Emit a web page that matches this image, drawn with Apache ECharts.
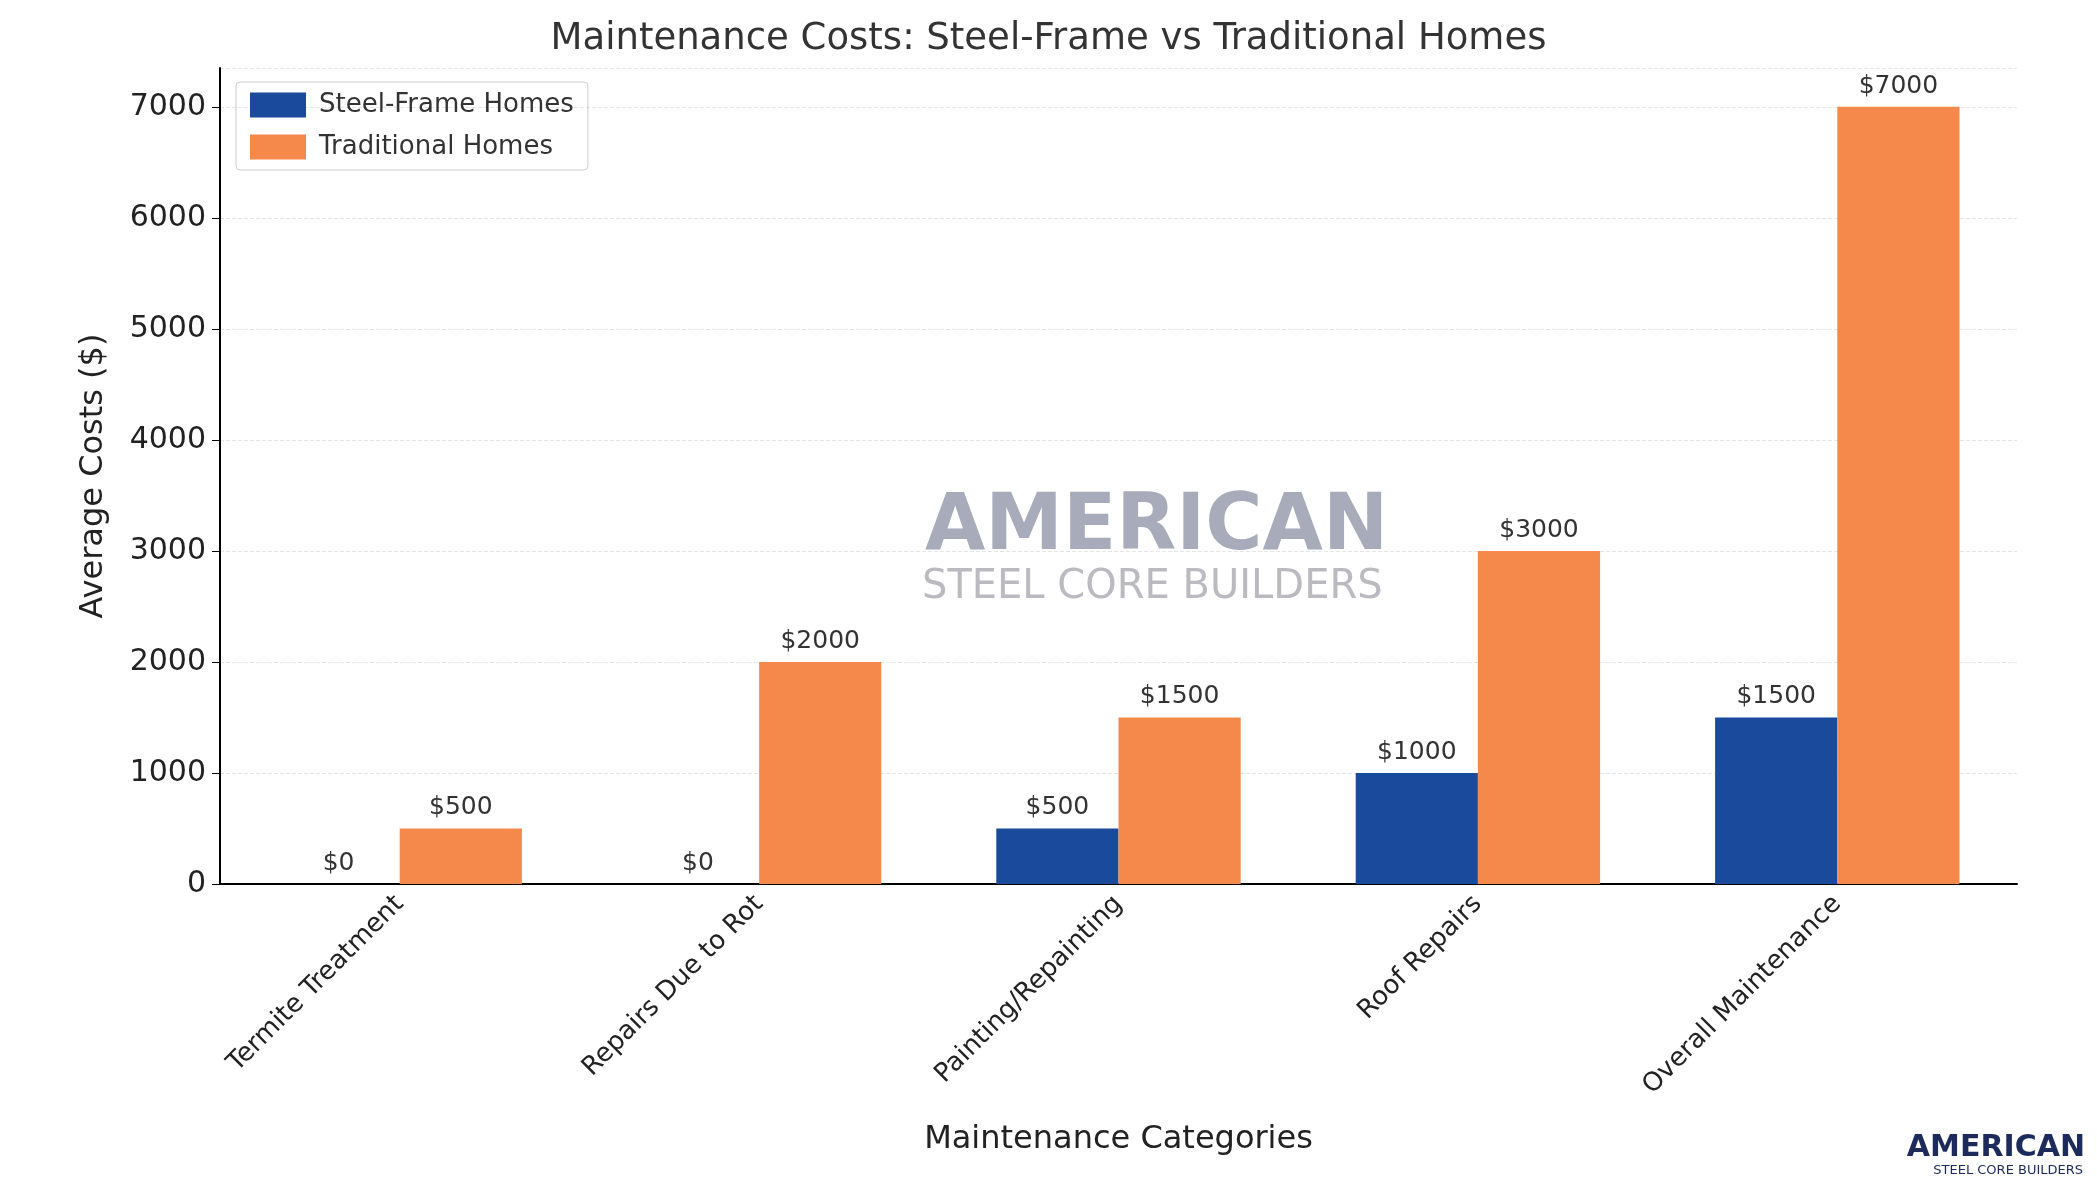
<!DOCTYPE html>
<html>
<head>
<meta charset="utf-8">
<script src="https://cdn.jsdelivr.net/npm/echarts@6/dist/echarts.min.js"></script>
<style>html,body{margin:0;padding:0;background:#fff}#chart{width:2097px;height:1180px}</style>
</head>
<body>
<div id="chart"></div>
<script>
// data
const categories = ['Termite Treatment', 'Repairs Due to Rot', 'Painting/Repainting', 'Roof Repairs', 'Overall Maintenance']
const steelFrame = [0, 0, 500, 1000, 1500]
const traditional = [500, 2000, 1500, 3000, 7000]

const font = 'DejaVu Sans'
let myChart = echarts.init(document.getElementById('chart'))

function labelOpt() {
    return {
        show: true, position: 'top', distance: 8,
        fontFamily: font, fontSize: 25, color: '#333',
        formatter: p => '$' + p.value
    }
}

myChart.setOption({
    animation: false,
    textStyle: { fontFamily: font },
    title: {
        text: 'Maintenance Costs: Steel-Frame vs Traditional Homes',
        left: 'center', top: 16,
        textStyle: { fontFamily: font, fontSize: 37, fontWeight: 'normal', color: '#333' }
    },
    legend: {
        left: 236, top: 82, orient: 'vertical', itemGap: 16,
        itemWidth: 56, itemHeight: 25, icon: 'rect',
        borderColor: '#ccc', borderWidth: 1, borderRadius: 4, padding: [10, 14],
        textStyle: { fontFamily: font, fontSize: 26, color: '#333', padding: [0, 0, 0, 8] },
        data: ['Steel-Frame Homes', 'Traditional Homes']
    },
    grid: { left: 220, right: 80, top: 68, bottom: 296 },
    xAxis: {
        type: 'category', data: categories,
        name: 'Maintenance Categories', nameLocation: 'middle', nameGap: 240,
        nameTextStyle: { fontFamily: font, fontSize: 32, color: '#222' },
        axisLine: { lineStyle: { color: '#000', width: 2 } },
        axisTick: { show: false },
        axisLabel: { rotate: 45, fontFamily: font, fontSize: 26, color: '#222', margin: 16 }
    },
    yAxis: {
        type: 'value', min: 0, max: 7350, interval: 1000,
        name: 'Average Costs ($)', nameLocation: 'middle', nameGap: 110,
        nameTextStyle: { fontFamily: font, fontSize: 32, color: '#222' },
        axisLine: { show: true, lineStyle: { color: '#000', width: 2 } },
        axisTick: { show: true, length: 8, lineStyle: { color: '#000' } },
        axisLabel: { fontFamily: font, fontSize: 30, color: '#222', margin: 14, showMaxLabel: false, formatter: v => String(v) },
        splitLine: { lineStyle: { color: '#e6e6e6', type: 'dashed' } }
    },
    graphic: [
        { type: 'text', left: 925, top: 490, z: 0, style: { text: 'AMERICAN', fontFamily: font, fontWeight: 'bold', fontSize: 78, fill: 'rgba(110,115,140,0.6)' } },
        { type: 'text', left: 922, top: 568, z: 0, style: { text: 'STEEL CORE BUILDERS', fontFamily: font, fontSize: 40, fill: 'rgba(140,140,150,0.6)' } },
        { type: 'text', right: 12, top: 1133, style: { text: 'AMERICAN', fontFamily: font, fontWeight: 'bold', fontSize: 30, fill: '#1d2a5c' } },
        { type: 'text', right: 14, top: 1164, style: { text: 'STEEL CORE BUILDERS', fontFamily: font, fontSize: 13, fill: '#1d2a5c' } }
    ],
    series: [
        {
            name: 'Steel-Frame Homes', type: 'bar', data: steelFrame,
            barWidth: '34%', barGap: '0%',
            itemStyle: { color: '#1a4a9c' }, label: labelOpt()
        },
        {
            name: 'Traditional Homes', type: 'bar', data: traditional,
            barWidth: '34%', barGap: '0%',
            itemStyle: { color: '#f5894b' }, label: labelOpt()
        }
    ]
})
</script>
</body>
</html>
